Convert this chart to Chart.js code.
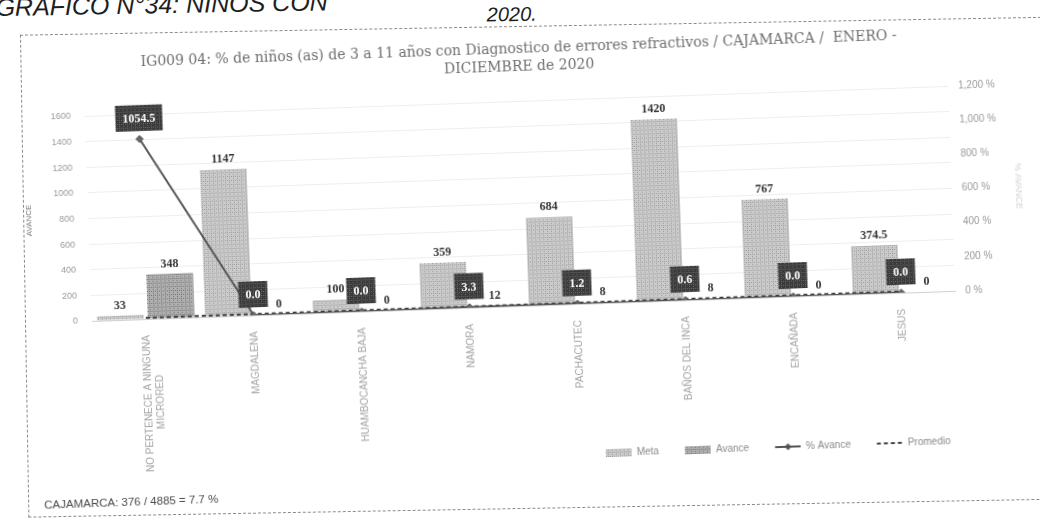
<!DOCTYPE html>
<html lang="es">
<head>
<meta charset="utf-8">
<title>IG009 04 - Cajamarca 2020</title>
<script src="https://cdn.jsdelivr.net/npm/chart.js@4.4.1/dist/chart.umd.min.js"></script>
<style>
  html, body { margin: 0; padding: 0; background: #fff; width: 1040px; height: 520px; overflow: hidden; }
  .hoja { position: absolute; left: 0; top: 0; width: 1040px; height: 520px; transform-origin: 520px 260px; }
  .hoja.marco-hoja { transform: rotate(-1deg); }
  .hoja.grafico-hoja { transform: rotate(-2deg); }
  .cabecera { position: absolute; left: 0; top: -16px; font: italic 25px "Liberation Sans", sans-serif; color: #1e1e1e; white-space: nowrap; }
  .anio { position: absolute; left: 0; width: 1032px; top: 3px; text-align: center; font: italic 20px "Liberation Sans", sans-serif; color: #1e1e1e; }
  .marco { position: absolute; left: 24px; top: 26px; width: 1060px; height: 481px; border: 1px dashed #8c8c8c; border-right: none; }
  .lienzo { position: absolute; left: 26px; top: 30px; width: 1000px; height: 466px; }
  .resumen { position: absolute; left: 36px; top: 482px; font: 11.5px "Liberation Sans", sans-serif; color: #4a4a4a; white-space: nowrap; }
</style>
</head>
<body>
<div class="hoja marco-hoja">
  <div class="cabecera">GRAFICO N°34: NIÑOS CON</div>
  <div class="anio">2020.</div>
  <div class="marco"></div>
</div>
<div class="hoja grafico-hoja">
  <div class="lienzo"><canvas id="grafico"></canvas></div>
  <div class="resumen">CAJAMARCA: 376 / 4885 = 7.7 %</div>
</div>

<script>
// Microredes y valores del indicador IG009 04
const categorias = [
  ["NO PERTENECE A NINGUNA", "MICRORED" + "\u2002".repeat(8)],
  "MAGDALENA",
  "HUAMBOCANCHA BAJA",
  "NAMORA",
  "PACHACUTEC",
  "BAÑOS DEL INCA",
  "ENCAÑADA",
  "JESUS"
];
const meta = [33, 1147, 100, 359, 684, 1420, 767, 374.5];
const avance = [348, 0, 0, 12, 8, 8, 0, 0];
const pctAvance = [1054.5, 0.0, 0.0, 3.3, 1.2, 0.6, 0.0, 0.0];
const promedio = [7.7, 7.7, 7.7, 7.7, 7.7, 7.7, 7.7, 7.7];

// Marcas de los ejes
const marcasAvance = [0, 200, 400, 600, 800, 1000, 1200, 1400, 1600];
const marcasPorcentaje = [0, 200, 400, 600, 800, 1000, 1200];

// Trama punteada, parecida a la de la impresión
function trama(fondo, punto) {
  const c = document.createElement("canvas");
  c.width = 4;
  c.height = 4;
  const g = c.getContext("2d");
  g.fillStyle = fondo;
  g.fillRect(0, 0, 4, 4);
  g.fillStyle = punto;
  g.fillRect(0, 0, 1, 1);
  g.fillRect(2, 2, 1, 1);
  g.fillRect(2, 0, 1, 1);
  return g.createPattern(c, "repeat");
}

const tramaMeta = trama("#cbcbcb", "#9a9a9a");
const tramaAvance = trama("#b0b0b0", "#707070");
const tramaCaja = trama("#3a3a3a", "#6a6a6a");

// Muestras de la leyenda (imagen con margen transparente a la izquierda)
function muestra(dibujar) {
  const c = document.createElement("canvas");
  c.width = 42;
  c.height = 10;
  dibujar(c.getContext("2d"));
  return c;
}

const muestraMeta = muestra((g) => {
  g.fillStyle = tramaMeta;
  g.fillRect(16, 1, 26, 8);
});
const muestraAvance = muestra((g) => {
  g.fillStyle = tramaAvance;
  g.fillRect(16, 1, 26, 8);
});
const muestraPct = muestra((g) => {
  g.strokeStyle = "#555";
  g.lineWidth = 2;
  g.beginPath();
  g.moveTo(16, 5);
  g.lineTo(42, 5);
  g.stroke();
  g.fillStyle = "#555";
  g.beginPath();
  g.moveTo(29, 1.5);
  g.lineTo(32.5, 5);
  g.lineTo(29, 8.5);
  g.lineTo(25.5, 5);
  g.closePath();
  g.fill();
});
const muestraPromedio = muestra((g) => {
  g.strokeStyle = "#444";
  g.lineWidth = 2;
  g.setLineDash([4, 3]);
  g.beginPath();
  g.moveTo(16, 5);
  g.lineTo(42, 5);
  g.stroke();
});

// Rótulos de valores: números sobre las barras y cajas oscuras del % de avance
const rotulos = {
  id: "rotulos",
  afterDatasetsDraw(chart) {
    const ctx = chart.ctx;
    ctx.save();
    ctx.font = 'bold 12px "Liberation Serif", serif';
    ctx.textAlign = "center";
    ctx.textBaseline = "bottom";
    ctx.fillStyle = "#333";
    [0, 1].forEach((d) => {
      chart.getDatasetMeta(d).data.forEach((barra, i) => {
        ctx.fillText(String(chart.data.datasets[d].data[i]), barra.x, barra.y - 4);
      });
    });

    ctx.textBaseline = "middle";
    chart.getDatasetMeta(2).data.forEach((punto, i) => {
      const txt = pctAvance[i].toFixed(1);
      const w = ctx.measureText(txt).width + 14;
      const h = 26;
      const cx = punto.x;
      const cy = punto.y - 21;
      ctx.fillStyle = tramaCaja;
      ctx.fillRect(cx - w / 2, cy - h / 2, w, h);
      ctx.fillStyle = "#fff";
      ctx.fillText(txt, cx, cy + 1);
    });
    ctx.restore();
  },
};

// La leyenda va hacia la derecha y a la altura de los nombres largos del eje
const corrimientoLeyenda = {
  id: "corrimientoLeyenda",
  afterLayout(chart) {
    const leyenda = chart.legend;
    leyenda.right -= 72;
    leyenda.top -= 25;
    leyenda.bottom -= 25;
  },
};

const fuenteEje = { family: '"Liberation Sans", sans-serif', size: 9 };

new Chart(document.getElementById("grafico"), {
  data: {
    labels: categorias,
    datasets: [
      {
        type: "bar",
        label: "Meta",
        data: meta,
        backgroundColor: tramaMeta,
        yAxisID: "y",
        order: 2,
        categoryPercentage: 0.94,
        barPercentage: 0.92,
      },
      {
        type: "bar",
        label: "Avance",
        data: avance,
        backgroundColor: tramaAvance,
        yAxisID: "y",
        order: 2,
        categoryPercentage: 0.94,
        barPercentage: 0.92,
      },
      {
        type: "line",
        label: "% Avance",
        data: pctAvance,
        yAxisID: "y2",
        borderColor: "#575757",
        borderWidth: 2,
        pointStyle: "rectRot",
        pointRadius: 3.5,
        pointBackgroundColor: "#6a6a6a",
        pointBorderColor: "#444",
        pointBorderWidth: 1,
        order: 1,
      },
      {
        type: "line",
        label: "Promedio",
        data: promedio,
        yAxisID: "y2",
        borderColor: "#3c3c3c",
        borderWidth: 2,
        borderDash: [4, 3],
        pointRadius: 0,
        order: 1,
      },
    ],
  },
  options: {
    responsive: true,
    maintainAspectRatio: false,
    animation: false,
    layout: { padding: 0 },
    scales: {
      x: {
        grid: { display: false },
        border: { color: "#d0d0d0" },
        ticks: {
          minRotation: 90,
          maxRotation: 90,
          autoSkip: false,
          padding: 8,
          color: "#a6a6a6",
          font: { family: '"Liberation Sans", sans-serif', size: 10 },
        },
        afterFit: (scale) => {
          scale.height = 160;
        },
      },
      y: {
        position: "left",
        min: 0,
        max: 1600,
        afterBuildTicks: (scale) => {
          scale.ticks = marcasAvance.map((v) => ({ value: v }));
        },
        grid: { color: "#eeeeee", drawTicks: false },
        border: { display: false },
        ticks: { color: "#9a9a9a", font: fuenteEje, padding: 14, callback: (v) => String(v) },
        title: {
          display: true,
          text: "AVANCE",
          color: "#7a7a7a",
          font: { family: '"Liberation Sans", sans-serif', size: 8 },
          padding: 0,
        },
        afterFit: (scale) => {
          scale.width = 64;
        },
      },
      y2: {
        position: "right",
        min: 0,
        max: 1200,
        afterBuildTicks: (scale) => {
          scale.ticks = marcasPorcentaje.map((v) => ({ value: v }));
        },
        grid: { drawOnChartArea: false, drawTicks: false },
        border: { display: false },
        ticks: {
          color: "#9a9a9a",
          font: { family: '"Liberation Sans", sans-serif', size: 10 },
          padding: 10,
          callback: (v) => v.toLocaleString("en-US") + " %",
        },
        title: {
          display: true,
          text: "% AVANCE",
          color: "#d2d2d2",
          font: { family: '"Liberation Sans", sans-serif', size: 9 },
          padding: 0,
        },
        afterFit: (scale) => {
          scale.width = 72;
        },
      },
    },
    plugins: {
      title: {
        display: true,
        text: [
          "IG009 04: % de niños (as) de 3 a 11 años con Diagnostico de errores refractivos / CAJAMARCA /  ENERO -",
          "DICIEMBRE de 2020",
        ],
        color: "#6e6e6e",
        font: { family: '"DejaVu Serif", serif', size: 14, weight: "normal", lineHeight: 1.25 },
        padding: { top: 11, bottom: 25 },
      },
      legend: {
        position: "bottom",
        align: "end",
        labels: {
          usePointStyle: true,
          pointStyleWidth: 42,
          padding: 10,
          color: "#8a8a8a",
          font: { family: '"Liberation Sans", sans-serif', size: 10 },
          generateLabels: () => [
            { text: "Meta", pointStyle: muestraMeta, datasetIndex: 0, fontColor: "#8a8a8a", lineWidth: 0 },
            { text: "Avance", pointStyle: muestraAvance, datasetIndex: 1, fontColor: "#8a8a8a", lineWidth: 0 },
            { text: "% Avance", pointStyle: muestraPct, datasetIndex: 2, fontColor: "#8a8a8a", lineWidth: 0 },
            { text: "Promedio", pointStyle: muestraPromedio, datasetIndex: 3, fontColor: "#8a8a8a", lineWidth: 0 },
          ],
        },
      },
      tooltip: { enabled: false },
    },
  },
  plugins: [rotulos, corrimientoLeyenda],
});
</script>
</body>
</html>
